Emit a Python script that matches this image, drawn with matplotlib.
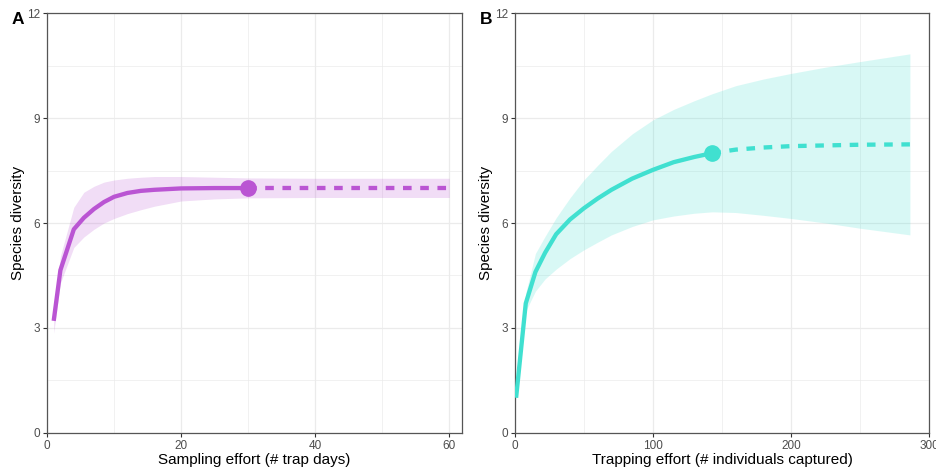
import matplotlib
matplotlib.use('Agg')
import matplotlib.pyplot as plt
from matplotlib.ticker import MultipleLocator

plt.rcParams['font.family'] = ['Liberation Sans', 'DejaVu Sans']

# panel A: trap days
a_obs_x = [1, 2, 4, 5.5, 7, 8.5, 10, 12, 14, 16, 20, 25, 30]
a_obs_y = [3.2, 4.65, 5.82, 6.15, 6.4, 6.6, 6.75, 6.86, 6.92, 6.95, 6.99, 7.0, 7.0]
a_obs_lo = [2.85, 4.28, 5.3, 5.6, 5.82, 6.0, 6.13, 6.27, 6.38, 6.48, 6.63, 6.69, 6.72]
a_obs_hi = [3.55, 5.05, 6.45, 6.88, 7.05, 7.17, 7.23, 7.28, 7.31, 7.33, 7.33, 7.31, 7.29]
a_ext_x = [30, 40, 50, 60]
a_ext_y = [7.0, 7.0, 7.0, 7.0]
a_ext_lo = [6.72, 6.73, 6.73, 6.73]
a_ext_hi = [7.29, 7.28, 7.28, 7.28]

# panel B: individuals captured
b_obs_x = [1, 8, 15, 22, 30, 40, 50, 60, 70, 85, 100, 115, 130, 143]
b_obs_y = [1.0, 3.7, 4.6, 5.15, 5.68, 6.1, 6.42, 6.7, 6.95, 7.27, 7.52, 7.74, 7.89, 8.0]
b_obs_lo = [0.95, 3.48, 4.05, 4.4, 4.68, 4.98, 5.23, 5.45, 5.66, 5.9, 6.09, 6.2, 6.28, 6.32]
b_obs_hi = [1.05, 4.0, 5.13, 5.62, 6.15, 6.72, 7.23, 7.65, 8.05, 8.55, 8.95, 9.25, 9.5, 9.7]
b_ext_x = [143, 160, 180, 200, 225, 250, 286]
b_ext_y = [8.0, 8.1, 8.16, 8.2, 8.22, 8.24, 8.25]
b_ext_lo = [6.32, 6.3, 6.22, 6.13, 6.0, 5.85, 5.66]
b_ext_hi = [9.7, 9.93, 10.12, 10.28, 10.46, 10.62, 10.84]

fig = plt.figure(figsize=(9.36, 4.67), dpi=100)
axA = fig.add_axes([0.0502, 0.0734, 0.4434, 0.8981])
axB = fig.add_axes([0.5499, 0.0734, 0.4429, 0.8981])


def draw(ax, col, ox, oy, olo, ohi, ex, ey, elo, ehi, xmax, xmaj, xmin, xlab, tag):
    ax.fill_between(ox, olo, ohi, color=col, alpha=0.2, lw=0, zorder=2)
    ax.fill_between(ex, elo, ehi, color=col, alpha=0.2, lw=0, zorder=2)
    ax.plot(ox, oy, color=col, lw=3.1, solid_capstyle='butt', zorder=3)
    ax.plot(ex, ey, color=col, lw=3.1, dashes=(2, 2), dash_capstyle='butt', zorder=3)
    ax.plot([ox[-1]], [oy[-1]], 'o', color=col, ms=11, zorder=4)
    ax.set_xlim(0, xmax)
    ax.set_ylim(0, 12)
    ax.xaxis.set_major_locator(MultipleLocator(xmaj))
    ax.xaxis.set_minor_locator(MultipleLocator(xmin))
    ax.yaxis.set_major_locator(MultipleLocator(3))
    ax.yaxis.set_minor_locator(MultipleLocator(1.5))
    ax.grid(which='major', color='#EBEBEB', lw=0.9, zorder=0)
    ax.grid(which='minor', color='#EBEBEB', lw=0.5, zorder=0)
    ax.set_axisbelow(True)
    ax.tick_params(which='major', length=3, width=0.8, color='#333333',
                   labelsize=8.5, labelcolor='#4D4D4D', pad=2)
    ax.tick_params(which='minor', length=0)
    for s in ax.spines.values():
        s.set_color('#555555')
        s.set_linewidth(0.9)
    ax.set_xlabel(xlab, fontsize=11, labelpad=1)
    ax.set_ylabel('Species diversity', fontsize=11, labelpad=1.5)
    ax.text(-0.085, 0.985, tag, transform=ax.transAxes, fontsize=12.5,
            fontweight='bold', ha='left', va='center')


draw(axA, '#BA55D3', a_obs_x, a_obs_y, a_obs_lo, a_obs_hi,
     a_ext_x, a_ext_y, a_ext_lo, a_ext_hi, 61.9, 20, 10,
     'Sampling effort (# trap days)', 'A')
draw(axB, '#40E0D0', b_obs_x, b_obs_y, b_obs_lo, b_obs_hi,
     b_ext_x, b_ext_y, b_ext_lo, b_ext_hi, 300, 100, 50,
     'Trapping effort (# individuals captured)', 'B')

fig.savefig('out.png', dpi=100)
